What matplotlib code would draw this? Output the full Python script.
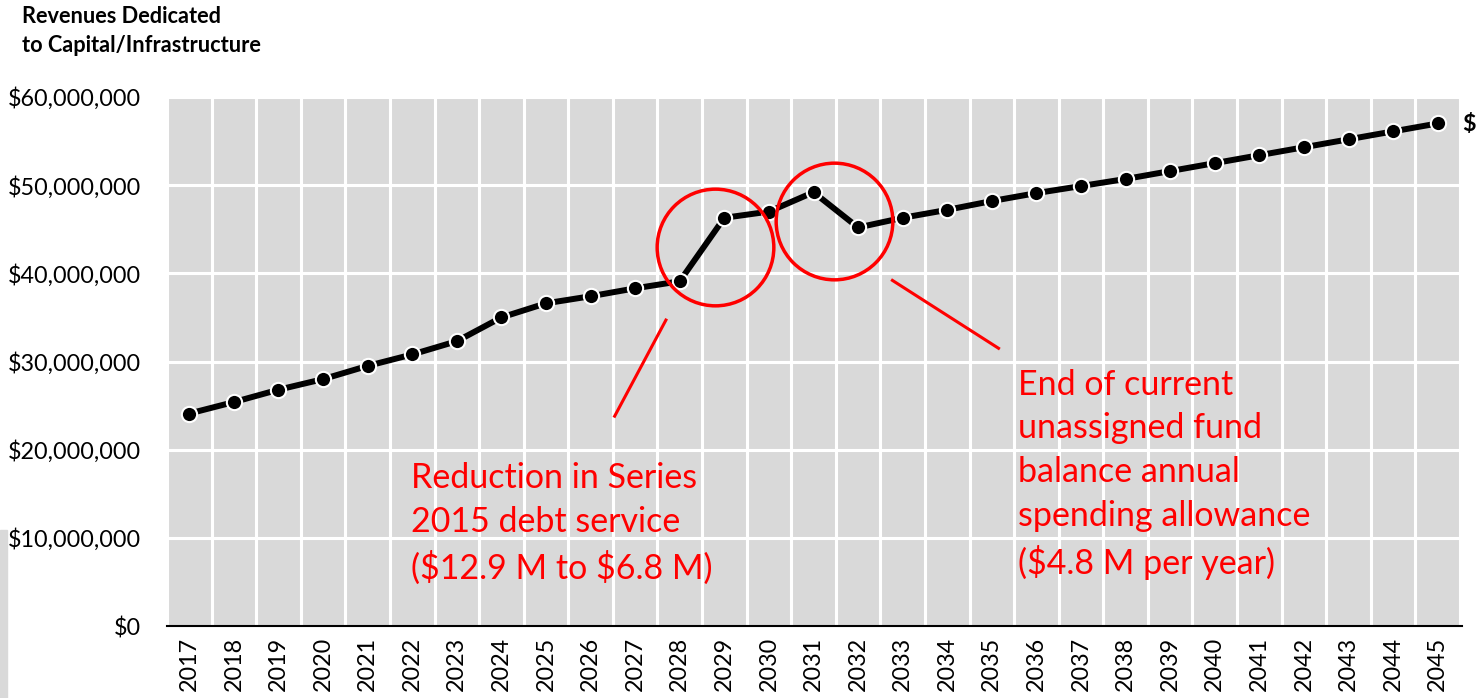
import matplotlib
matplotlib.use("Agg")
import matplotlib.pyplot as plt
from matplotlib.patches import Rectangle
from matplotlib.ticker import FuncFormatter, MultipleLocator, FixedLocator

plt.rcParams['font.family'] = ['Lato', 'DejaVu Sans']
plt.rcParams['text.parse_math'] = False

years = [str(y) for y in range(2017, 2046)]
revenues = [24.1, 25.4, 26.8, 28.0, 29.5, 30.8, 32.3, 35.0, 36.6, 37.4, 38.3, 39.1,
            46.3, 47.0, 49.2, 45.2, 46.3, 47.2, 48.2, 49.1, 49.9, 50.7, 51.6, 52.5,
            53.4, 54.3, 55.2, 56.1, 57.0]
revenues = [v * 1e6 for v in revenues]

title = "Revenues Dedicated\nto Capital/Infrastructure"
note1 = "Reduction in Series\n2015 debt service\n($12.9 M to $6.8 M)"
note2 = "End of current\nunassigned fund\nbalance annual\nspending allowance\n($4.8 M per year)"
end_label = "$57,000,000"

W, H = 1476, 698
fig = plt.figure(figsize=(W / 100, H / 100), dpi=100)
ax = fig.add_axes([167 / W, 1 - 626 / H, (1460 - 167) / W, (626 - 97) / H])
ax.set_facecolor('#d9d9d9')

x = list(range(len(years)))
ax.plot(x, revenues, color='black', lw=4.3, marker='o', markersize=11,
        markerfacecolor='black', markeredgecolor='white', markeredgewidth=1.5,
        zorder=5, clip_on=False)

ax.set_xlim(-0.5, len(years) - 0.5)
ax.set_ylim(0, 60e6)
ax.set_xticks(x)
ax.set_xticklabels(years, rotation=90, fontsize=16.8)
ax.xaxis.set_minor_locator(FixedLocator([i - 0.5 for i in range(len(years) + 1)]))
ax.yaxis.set_major_locator(MultipleLocator(10e6))
ax.yaxis.set_major_formatter(FuncFormatter(lambda v, p: f"${v:,.0f}"))
ax.tick_params(axis='y', labelsize=16.8, length=0, pad=19)
ax.tick_params(axis='x', which='major', length=0, pad=8)
ax.tick_params(axis='x', which='minor', length=0)
ax.grid(True, axis='y', which='major', color='white', lw=2.2)
ax.grid(True, axis='x', which='minor', color='white', lw=2.2)
ax.grid(False, axis='x', which='major')
ax.set_axisbelow(True)
for s in ['top', 'right', 'left']:
    ax.spines[s].set_visible(False)
ax.spines['bottom'].set_linewidth(1.5)
ax.spines['bottom'].set_bounds(-0.5, 28.55)

# annotations
ax.plot([11.78], [43.0e6], marker='o', markersize=84, markerfacecolor='none',
        markeredgecolor='red', markeredgewidth=2.5, zorder=6)
ax.plot([14.47], [45.9e6], marker='o', markersize=84, markerfacecolor='none',
        markeredgecolor='red', markeredgewidth=2.5, zorder=6)
ax.plot([10.69, 9.54], [34.7e6, 23.8e6], color='red', lw=2.2, zorder=6)
ax.plot([15.77, 18.15], [39.2e6, 31.5e6], color='red', lw=2.2, zorder=6)
ax.text(4.97, 18.6e6, note1, color='red', fontsize=24.5, va='top', ha='left',
        linespacing=1.45, zorder=7)
ax.text(18.59, 29.2e6, note2, color='red', fontsize=24.5, va='top', ha='left',
        linespacing=1.45, zorder=7)
ax.annotate(end_label, xy=(28, revenues[-1]), xytext=(24, 0), textcoords='offset pixels',
            fontsize=16.8, fontweight='bold', va='center', ha='left', annotation_clip=False)

fig.text(22 / W, 1 - 6 / H, title, fontsize=15.7, fontweight='bold', va='top', ha='left',
         linespacing=1.45)
fig.patches.append(Rectangle((0, 0), 7 / W, (698 - 530) / H, transform=fig.transFigure,
                             color='#d9d9d9', zorder=0))

fig.savefig("out.png", dpi=100)
